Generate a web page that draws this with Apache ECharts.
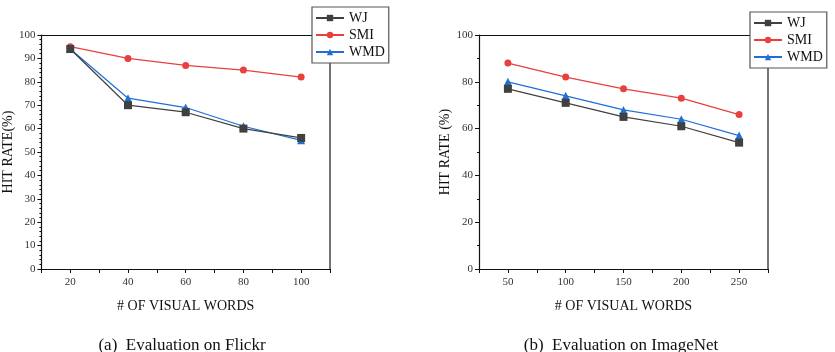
<!DOCTYPE html>
<html>
<head>
<meta charset="utf-8">
<script src="https://cdn.jsdelivr.net/npm/echarts@6/dist/echarts.min.js"></script>
<style>
  html, body { margin: 0; padding: 0; background: #fff; }
  #chart { width: 835px; height: 352px; }
</style>
</head>
<body>
<div id="chart"></div>
<script>
// Flickr (a)
var flickrWords = [20, 40, 60, 80, 100];
var flickrWJ = [94, 70, 67, 60, 56];
var flickrSMI = [95, 90, 87, 85, 82];
var flickrWMD = [94, 73, 69, 61, 55];

// ImageNet (b)
var imagenetWords = [50, 100, 150, 200, 250];
var imagenetWJ = [77, 71, 65, 61, 54];
var imagenetSMI = [88, 82, 77, 73, 66];
var imagenetWMD = [80, 74, 68, 64, 57];

var seriesNames = ["WJ", "SMI", "WMD"];
var seriesColors = ["#404040", "#e8403d", "#1f6fd6"];
var seriesSymbols = ["rect", "circle", "triangle"];

var FONT = "Liberation Serif";

function pairs(xs, ys) {
  return xs.map(function (x, i) { return [x, ys[i]]; });
}

function makeSeries(idx, xs, lists) {
  return lists.map(function (ys, i) {
    return {
      name: seriesNames[i],
      type: "line",
      xAxisIndex: idx * 2,
      yAxisIndex: idx * 2,
      data: pairs(xs, ys),
      symbol: seriesSymbols[i],
      symbolSize: i == 1 ? 7 : 8,
      color: seriesColors[i],
      lineStyle: { width: 1.2, color: seriesColors[i] },
      itemStyle: { color: seriesColors[i] },
      z: 3 - i + 2,
      animation: false
    };
  });
}

function bottomAxis(grid, min, max, interval, labelStep) {
  return {
    type: "value", gridIndex: grid, position: "bottom",
    min: min, max: max, interval: interval,
    name: "# OF VISUAL WORDS", nameLocation: "middle", nameGap: 30,
    nameTextStyle: { fontFamily: FONT, fontSize: 14, color: "#111" },
    axisLine: { show: true, onZero: false, lineStyle: { color: "#111", width: 1.2 } },
    axisTick: { show: true, inside: false, length: 4, lineStyle: { color: "#111" } },
    axisLabel: {
      fontFamily: FONT, fontSize: 11, color: "#333", margin: 8,
      formatter: function (v) {
        return (v % labelStep === 0 && v > min && v < max) ? v : "";
      }
    },
    splitLine: { show: false }
  };
}

function topAxis(grid, min, max) {
  return {
    type: "value", gridIndex: grid, position: "top", min: min, max: max,
    axisLine: { show: true, onZero: false, lineStyle: { color: "#111", width: 1.2 } },
    axisTick: { show: false }, axisLabel: { show: false }, splitLine: { show: false }
  };
}

function leftAxis(grid, interval, minorSplit, name) {
  return {
    type: "value", gridIndex: grid, position: "left",
    min: 0, max: 100, interval: interval,
    name: name, nameLocation: "middle", nameGap: 26, nameRotate: 90,
    nameTextStyle: { fontFamily: FONT, fontSize: 14, color: "#111" },
    axisLine: { show: true, onZero: false, lineStyle: { color: "#111", width: 1.2 } },
    axisTick: { show: true, inside: false, length: 4, lineStyle: { color: "#111" } },
    minorTick: { show: true, splitNumber: minorSplit, length: 2, lineStyle: { color: "#111" } },
    axisLabel: { fontFamily: FONT, fontSize: 11, color: "#333", margin: 6 },
    splitLine: { show: false }
  };
}

function rightAxis(grid) {
  return {
    type: "value", gridIndex: grid, position: "right", min: 0, max: 100,
    axisLine: { show: true, onZero: false, lineStyle: { color: "#666", width: 1.8 } },
    axisTick: { show: false }, axisLabel: { show: false }, splitLine: { show: false }
  };
}

function legendBox(left, top) {
  return {
    orient: "vertical", left: left, top: top,
    data: seriesNames,
    itemWidth: 28, itemHeight: 8, itemGap: 3,
    padding: [4, 4, 4, 3],
    backgroundColor: "#fff",
    borderColor: "#555", borderWidth: 1.2,
    textStyle: { fontFamily: FONT, fontSize: 14, color: "#111" },
    z: 10
  };
}

var chart = echarts.init(document.getElementById("chart"), null, { renderer: "canvas" });

var option = {
  backgroundColor: "#fff",
  animation: false,
  title: [
    {
      text: "(a)  Evaluation on Flickr", left: 177, top: 332, textAlign: "center",
      textStyle: { fontFamily: FONT, fontSize: 17, fontWeight: "normal", color: "#111" }
    },
    {
      text: "(b)  Evaluation on ImageNet", left: 616, top: 332, textAlign: "center",
      textStyle: { fontFamily: FONT, fontSize: 17, fontWeight: "normal", color: "#111" }
    }
  ],
  legend: [legendBox(312, 7), legendBox(750, 12)],
  grid: [
    { left: 40, top: 35, width: 290, height: 234 },
    { left: 479, top: 35, width: 289, height: 234 }
  ],
  xAxis: [
    bottomAxis(0, 10, 110, 10, 20),
    topAxis(0, 10, 110),
    bottomAxis(1, 25, 275, 25, 50),
    topAxis(1, 25, 275)
  ],
  yAxis: [
    leftAxis(0, 10, 5, "HIT RATE(%)"),
    rightAxis(0),
    leftAxis(1, 20, 2, "HIT RATE (%)"),
    rightAxis(1)
  ],
  series: []
};

option.series = makeSeries(0, flickrWords, [flickrWJ, flickrSMI, flickrWMD])
  .concat(makeSeries(1, imagenetWords, [imagenetWJ, imagenetSMI, imagenetWMD]));

chart.setOption(option);
</script>
</body>
</html>
